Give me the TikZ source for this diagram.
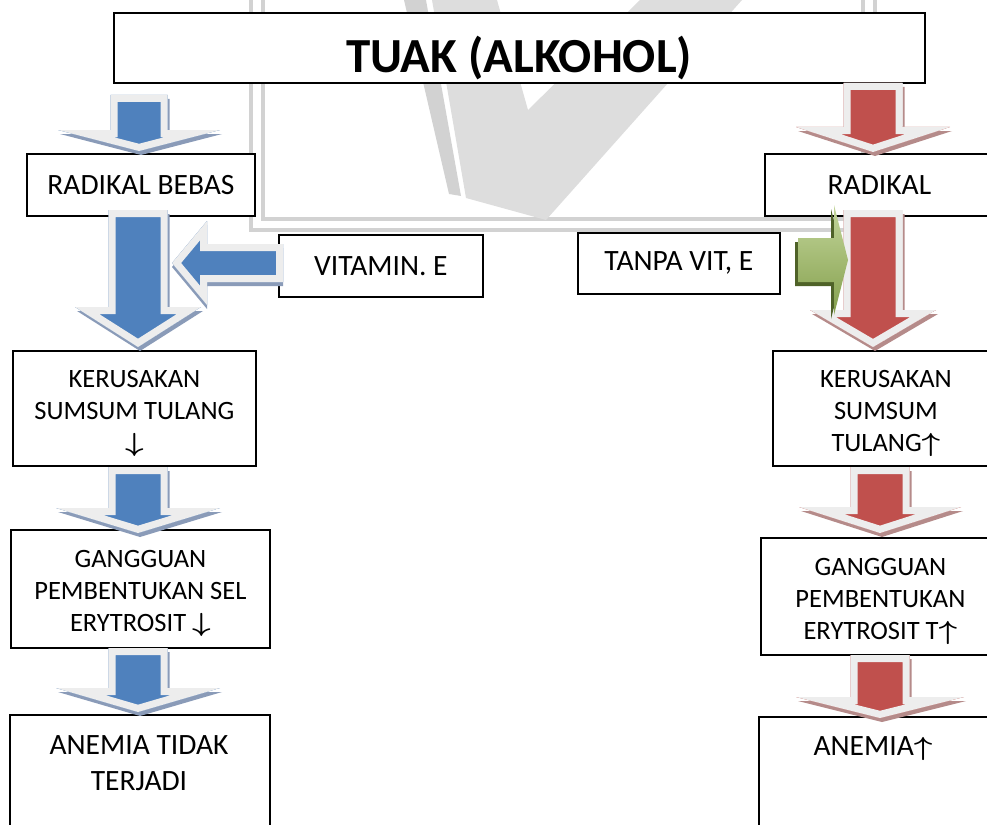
\documentclass[tikz,border=0pt]{standalone}
\usepackage{fontspec}
\usepackage{graphicx}
\setmainfont{Carlito}
\usetikzlibrary{calc}
\definecolor{bfill}{HTML}{4F81BD}
\definecolor{rfill}{HTML}{C0504D}
\definecolor{bshad}{HTML}{8A9BB8}
\definecolor{rshad}{HTML}{B58B8A}
\definecolor{lite}{HTML}{EDEDED}
\definecolor{gfill}{HTML}{9BBB59}
\definecolor{gtop}{HTML}{C3D69B}
\definecolor{gshad}{HTML}{4F6228}
\definecolor{wm}{HTML}{D2D2D2}
\definecolor{wmlite}{HTML}{DDDDDD}
\newcommand{\dn}{\scalebox{1.3}[1.05]{\boldmath$\downarrow$}}
\newcommand{\up}{\scalebox{1.3}[1.05]{\boldmath$\uparrow$}}
\tikzset{
  box/.style={draw=black, fill=white, line width=1.8pt, rectangle, anchor=north west, align=center, inner sep=0pt},
  bigtxt/.style={font=\fontsize{29.5}{36}\selectfont, align=center, inner sep=0pt},
  smtxt/.style={font=\fontsize{26.5}{32}\selectfont, text height=91pt},
  ttl/.style={font=\fontsize{49}{58}\selectfont\bfseries, inner sep=0pt},
}
% block arrow outlines: top/tail, tip, head length, shaft half, head half, dx, dy
\newcommand{\dshape}[7]{let \p1=(#1), \p2=(#2) in
  (\x2-#4pt+#6pt,\y1-#7pt) -- (\x2+#4pt+#6pt,\y1-#7pt) -- (\x2+#4pt+#6pt,\y2+#3pt-#7pt)
  -- (\x2+#5pt+#6pt,\y2+#3pt-#7pt) -- (\x2+#6pt,\y2-#7pt) -- (\x2-#5pt+#6pt,\y2+#3pt-#7pt)
  -- (\x2-#4pt+#6pt,\y2+#3pt-#7pt) -- cycle}
\newcommand{\hshape}[7]{let \p1=(#1), \p2=(#2) in
  (\x1+#6pt,\y2+#4pt-#7pt) -- (\x2+#3pt+#6pt,\y2+#4pt-#7pt) -- (\x2+#3pt+#6pt,\y2+#5pt-#7pt)
  -- (\x2+#6pt,\y2-#7pt) -- (\x2+#3pt+#6pt,\y2-#5pt-#7pt) -- (\x2+#3pt+#6pt,\y2-#4pt-#7pt)
  -- (\x1+#6pt,\y2-#4pt-#7pt) -- cycle}
\newcommand{\downarr}[7]{%
  \fill[#2] \dshape{#3}{#4}{#5}{#6}{#7}{2}{4};
  \fill[lite] \dshape{#3}{#4}{#5}{#6}{#7}{0}{0};
  \begin{scope}
    \clip \dshape{#3}{#4}{#5}{#6}{#7}{0}{0};
    \fill[#1] \dshape{#3}{#4}{#5}{#6}{#7}{0}{0};
    \draw[lite, line width=14pt] \dshape{#3}{#4}{#5}{#6}{#7}{0}{0};
  \end{scope}}
\newcommand{\harr}[7]{%
  \fill[#2] \hshape{#3}{#4}{#5}{#6}{#7}{0}{4};
  \fill[lite] \hshape{#3}{#4}{#5}{#6}{#7}{0}{0};
  \begin{scope}
    \clip \hshape{#3}{#4}{#5}{#6}{#7}{0}{0};
    \fill[#1] \hshape{#3}{#4}{#5}{#6}{#7}{0}{0};
    \draw[lite, line width=14pt] \hshape{#3}{#4}{#5}{#6}{#7}{0}{0};
  \end{scope}}

\begin{document}
\begin{tikzpicture}[x=1pt, y=-1pt]
\useasboundingbox (0,0) rectangle (987,824);
% faint watermark behind
\draw[wm, line width=4pt] (251,0) -- (251,230) -- (875,230) -- (875,0);
\draw[wm, line width=4pt] (263,0) -- (263,219) -- (863,219) -- (863,0);
\fill[wm] (404,0) -- (426,0) -- (461,196) -- (449,194) -- cycle;
\fill[wmlite] (432,0) -- (497,0) -- (528,110) -- (640,0) -- (742,0) -- (546,220) -- (466,198) -- cycle;

% boxes
\node[box, minimum width=811pt, minimum height=70pt] (title) at (113,12) {};
\node[ttl, anchor=base] (ttltxt) at (519,73) {TUAK (ALKOHOL)};
\node[box, bigtxt, minimum width=228pt, minimum height=62pt] (rbL) at (26,153) {RADIKAL BEBAS};
\node[box, bigtxt, minimum width=204pt, minimum height=62pt] (vit) at (278,234) {VITAMIN. E};
\node[box, smtxt, minimum width=243pt, minimum height=115pt] (ksL) at (12,350)
  {KERUSAKAN\\SUMSUM TULANG\\\dn};
\node[box, smtxt, minimum width=259pt, minimum height=118pt] (ggL) at (10,529)
  {GANGGUAN\\PEMBENTUKAN SEL\\ERYTROSIT \dn};
\node[box, minimum width=260pt, minimum height=150pt] (anL) at (9,714) {};
\node[bigtxt, anchor=north] (anLtxt) at (139,735) {ANEMIA TIDAK\\TERJADI};

\node[box, bigtxt, minimum width=229pt, minimum height=62pt] (rR) at (764,153) {RADIKAL};
\node[box, bigtxt, minimum width=202pt, minimum height=61pt] (tanpa) at (577,232) {TANPA VIT, E};
\node[box, smtxt, minimum width=226pt, minimum height=115pt] (ksR) at (772,350)
  {KERUSAKAN\\SUMSUM\\TULANG\up};
\node[box, smtxt, minimum width=239pt, minimum height=117pt] (ggR) at (760,537)
  {GANGGUAN\\PEMBENTUKAN\\ERYTROSIT T\up};
\node[box, minimum width=230pt, minimum height=150pt] (anR) at (758,716) {};
\node[bigtxt, anchor=north] (anRtxt) at (873,736) {ANEMIA\up};

% block arrow ends
\coordinate (a1t) at (139,95);  \coordinate (a1e) at (139,151);
\coordinate (a2t) at (138,210); \coordinate (a2e) at (138,347);
\coordinate (a3t) at (138,467); \coordinate (a3e) at (138,533);
\coordinate (a4t) at (138,648); \coordinate (a4e) at (138,712);
\coordinate (a5t) at (873,83);  \coordinate (a5e) at (873,152);
\coordinate (a6t) at (873,210); \coordinate (a6e) at (873,347);
\coordinate (a7t) at (880,467); \coordinate (a7e) at (880,533);
\coordinate (a8t) at (880,655); \coordinate (a8e) at (880,718);
\coordinate (vt) at (283,263);  \coordinate (ve) at (172,263);
\coordinate (gt) at (798,260);  \coordinate (ge) at (848,260);

% left column
\downarr{bfill}{bshad}{a1t}{a1e}{21}{28.5}{81}
\downarr{bfill}{bshad}{a2t}{a2e}{40}{29.5}{63}
\downarr{bfill}{bshad}{a3t}{a3e}{25}{29.5}{82}
\downarr{bfill}{bshad}{a4t}{a4e}{24}{29.5}{82}
\harr{bfill}{bshad}{vt}{ve}{35}{19}{42}
% right column
\downarr{rfill}{rshad}{a5t}{a5e}{25}{29.5}{77}
\downarr{rfill}{rshad}{a6t}{a6e}{37}{29.5}{63}
\downarr{rfill}{rshad}{a7t}{a7e}{26}{29.5}{81}
\downarr{rfill}{rshad}{a8t}{a8e}{21}{29.5}{84}
\fill[gshad] \hshape{gt}{ge}{-14}{22}{55}{-3}{4};
\shade[top color=gtop, bottom color=gfill!85!black] \hshape{gt}{ge}{-14}{22}{55}{0}{0};
\end{tikzpicture}
\end{document}
